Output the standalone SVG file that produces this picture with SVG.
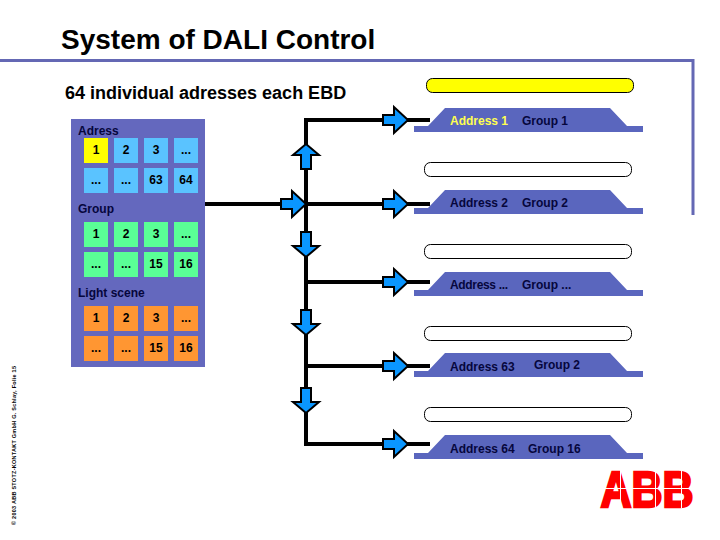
<svg xmlns="http://www.w3.org/2000/svg" width="720" height="540" viewBox="0 0 720 540">
<defs>
<path id="ar" d="M-24-5H-13V-13L1 0L-13 13V5H-24Z" class="arr"/>
<path id="dn" d="M-5-24V-10H-13L0 1L13-10H5V-24Z" class="arr"/>
<path id="tr" d="M414 126H428L445 108H610L627 126H643V132H414Z" class="trap"/>
</defs>
<style>
text{font-family:"Liberation Sans",Arial,sans-serif;font-weight:700;fill:#06063c}
.cell{font-size:12px;text-anchor:middle;fill:#000}
.lb{font-size:12px}
.trap{fill:#5a66be}
.arr{fill:#0a96ff;stroke:#000;stroke-width:2}
.pill{fill:#fff;stroke:#000;stroke-width:1}
.bl{fill:#5ac3ff}.gr{fill:#5aff96}.or{fill:#ff9632}
.wire{fill:none;stroke:#000;stroke-width:4}
.cut{stroke:#fff;stroke-width:1;fill:none}
</style>
<rect width="720" height="540" fill="#fff"/>
<g id="frame"><path d="M0 60.500H693V215" fill="none" stroke="#6468b4" stroke-width="3"/></g>
<g id="titles">
<text x="61" y="49" font-size="28" style="fill:#000">System of DALI Control</text>
<text x="65" y="99" font-size="18" style="fill:#000">64 individual adresses each EBD</text>
<text transform="translate(16,525) rotate(-90)" font-size="5.500" textLength="159" lengthAdjust="spacing" style="fill:#000">© 2003 ABB STOTZ-KONTAKT GmbH G. Schlay, Folie 15</text>
</g>
<g id="connectors">
<path class="wire" d="M430 120H306V444H430M205 204H430M306 282H430M306 366H430"/>
</g>
<g id="arrows">
<use href="#ar" x="407" y="120"/><use href="#ar" x="407" y="204"/><use href="#ar" x="407" y="282"/><use href="#ar" x="407" y="366"/><use href="#ar" x="407" y="444"/>
<use href="#ar" x="305" y="204"/>
<use href="#dn" transform="translate(306,145) rotate(180)"/>
<use href="#dn" x="306" y="256"/><use href="#dn" x="306" y="334"/><use href="#dn" x="306" y="412"/>
</g>
<g id="panel">
<rect x="71" y="119" width="134" height="248" fill="#6468be"/>
<text class="lb" x="78" y="135">Adress</text>
<text class="lb" x="78" y="213">Group</text>
<text class="lb" x="78" y="297">Light scene</text>
<rect x="84" y="138" width="24" height="25" fill="#ff0"/><rect class="bl" x="114" y="138" width="24" height="25"/><rect class="bl" x="144" y="138" width="24" height="25"/><rect class="bl" x="174" y="138" width="24" height="25"/>
<rect class="bl" x="84" y="168" width="24" height="25"/><rect class="bl" x="114" y="168" width="24" height="25"/><rect class="bl" x="144" y="168" width="24" height="25"/><rect class="bl" x="174" y="168" width="24" height="25"/>
<rect class="gr" x="84" y="222" width="24" height="25"/><rect class="gr" x="114" y="222" width="24" height="25"/><rect class="gr" x="144" y="222" width="24" height="25"/><rect class="gr" x="174" y="222" width="24" height="25"/>
<rect class="gr" x="84" y="252" width="24" height="25"/><rect class="gr" x="114" y="252" width="24" height="25"/><rect class="gr" x="144" y="252" width="24" height="25"/><rect class="gr" x="174" y="252" width="24" height="25"/>
<rect class="or" x="84" y="306" width="24" height="25"/><rect class="or" x="114" y="306" width="24" height="25"/><rect class="or" x="144" y="306" width="24" height="25"/><rect class="or" x="174" y="306" width="24" height="25"/>
<rect class="or" x="84" y="336" width="24" height="25"/><rect class="or" x="114" y="336" width="24" height="25"/><rect class="or" x="144" y="336" width="24" height="25"/><rect class="or" x="174" y="336" width="24" height="25"/>
<g class="cells">
<text class="cell" x="96" y="154">1</text><text class="cell" x="126" y="154">2</text><text class="cell" x="156" y="154">3</text><text class="cell" x="186" y="154">...</text>
<text class="cell" x="96" y="184">...</text><text class="cell" x="126" y="184">...</text><text class="cell" x="156" y="184">63</text><text class="cell" x="186" y="184">64</text>
<text class="cell" x="96" y="238">1</text><text class="cell" x="126" y="238">2</text><text class="cell" x="156" y="238">3</text><text class="cell" x="186" y="238">...</text>
<text class="cell" x="96" y="268">...</text><text class="cell" x="126" y="268">...</text><text class="cell" x="156" y="268">15</text><text class="cell" x="186" y="268">16</text>
<text class="cell" x="96" y="322">1</text><text class="cell" x="126" y="322">2</text><text class="cell" x="156" y="322">3</text><text class="cell" x="186" y="322">...</text>
<text class="cell" x="96" y="352">...</text><text class="cell" x="126" y="352">...</text><text class="cell" x="156" y="352">15</text><text class="cell" x="186" y="352">16</text>
</g>
</g>
<g id="ebd1"><rect x="426.500" y="78.500" width="207" height="14" rx="6" fill="#ff0" stroke="#000"/><use href="#tr"/><text class="lb" x="450" y="125" style="fill:#ffff50">Address 1</text><text class="lb" x="522" y="125">Group 1</text></g>
<g id="ebd2"><rect class="pill" x="424.500" y="162.500" width="207" height="14" rx="6"/><use href="#tr" y="82"/><text class="lb" x="450" y="207">Address 2</text><text class="lb" x="522" y="207">Group 2</text></g>
<g id="ebd3"><rect class="pill" x="424.500" y="244.500" width="207" height="14" rx="6"/><use href="#tr" y="164"/><text class="lb" x="450" y="289" textLength="58" lengthAdjust="spacing">Address ...</text><text class="lb" x="522" y="289">Group ...</text></g>
<g id="ebd4"><rect class="pill" x="424.500" y="326.500" width="207" height="14" rx="6"/><use href="#tr" y="245"/><text class="lb" x="450" y="371">Address 63</text><text class="lb" x="534" y="369">Group 2</text></g>
<g id="ebd5"><rect class="pill" x="424.500" y="407.500" width="207" height="14" rx="6"/><use href="#tr" y="327"/><text class="lb" x="450" y="453">Address 64</text><text class="lb" x="528" y="453">Group 16</text></g>
<g id="abb-logo"><text x="600.500" y="506.500" font-size="50" textLength="93" lengthAdjust="spacingAndGlyphs" style="fill:#f00;stroke:#f00;stroke-width:2.500">ABB</text><path class="cut" d="M600 488.500H694M620.500 468V508M655.500 468V508M681.500 468V508"/></g>
</svg>
